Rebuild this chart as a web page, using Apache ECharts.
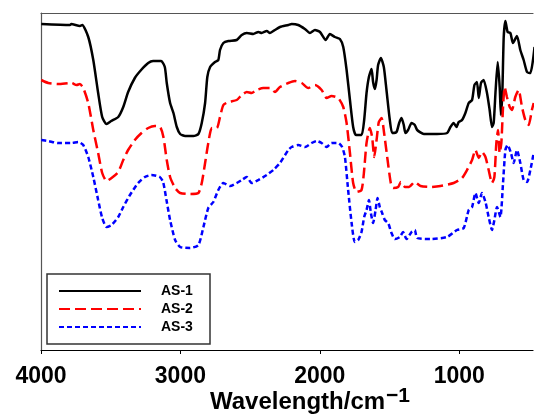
<!DOCTYPE html>
<html><head><meta charset="utf-8">
<script src="https://cdn.jsdelivr.net/npm/echarts@6/dist/echarts.min.js"></script>
<style>html,body{margin:0;padding:0;background:#fff}#c{width:534px;height:419px}</style>
</head><body><div id="c"></div>
<script>
var seriesNames = ['AS-1', 'AS-2', 'AS-3'];
var xTicks = [4000, 3000, 2000, 1000];
var as1 = [[3998,326],[3792,325],[3783,326],[3721,324],[3704,325],[3661,313],[3625,290],[3590,257],[3561,233],[3530,226],[3496,229],[3446,233],[3410,243],[3375,258],[3327,272],[3282,280],[3231,287],[3196,289],[3138,289],[3112,283],[3098,267],[3074,247],[3050,237],[3026,223],[3002,216],[2966,214],[2907,214],[2871,216],[2847,227],[2823,247],[2807,273],[2787,283],[2752,288],[2728,290],[2716,300],[2692,307],[2656,309],[2596,310],[2560,315],[2524,317],[2477,316],[2441,318],[2417,317],[2381,319],[2358,317],[2322,320],[2286,323],[2226,325],[2202,326],[2155,325],[2107,321],[2071,317],[2035,320],[1999,318],[1958,310],[1928,316],[1892,313],[1856,311],[1832,303],[1808,280],[1784,250],[1761,223],[1741,215],[1701,215],[1682,230],[1665,257],[1648,273],[1629,281],[1618,268],[1605,261],[1593,270],[1582,285],[1562,292],[1541,283],[1522,260],[1498,230],[1481,217],[1450,218],[1431,227],[1414,232],[1398,225],[1386,217],[1367,220],[1342,227],[1319,225],[1302,220],[1254,216],[1159,216],[1087,217],[1063,223],[1040,227],[1020,223],[1004,228],[980,230],[956,237],[932,247],[908,250],[891,265],[873,268],[860,252],[844,267],[825,270],[801,257],[782,240],[765,223],[753,227],[739,260],[724,288],[710,263],[701,235],[691,257],[681,313],[669,329],[653,318],[633,317],[615,307],[586,314],[562,300],[538,290],[514,278],[490,277],[471,290],[460,303]];
var as2 = [[3998,270],[3948,267],[3876,266],[3781,267],[3745,265],[3721,266],[3697,262],[3661,247],[3625,220],[3590,197],[3561,177],[3530,169],[3494,172],[3446,178],[3410,190],[3375,200],[3327,210],[3279,217],[3231,222],[3183,224],[3145,223],[3122,213],[3098,190],[3074,173],[3038,162],[3002,157],[2931,156],[2871,157],[2847,167],[2823,187],[2800,207],[2775,222],[2739,222],[2716,233],[2692,245],[2656,248],[2596,250],[2560,255],[2524,258],[2489,257],[2453,260],[2406,262],[2358,262],[2322,258],[2286,263],[2226,267],[2178,269],[2130,267],[2083,262],[2035,265],[1987,260],[1951,252],[1916,254],[1868,252],[1832,243],[1808,227],[1784,197],[1761,167],[1737,158],[1701,160],[1684,177],[1665,207],[1641,222],[1625,213],[1610,193],[1593,210],[1577,228],[1557,232],[1539,217],[1514,190],[1491,167],[1474,162],[1438,163],[1419,168],[1390,163],[1360,163],[1320,168],[1278,164],[1206,163],[1135,164],[1040,167],[980,172],[944,180],[908,190],[884,200],[860,192],[837,198],[812,193],[789,180],[765,167],[748,173],[734,207],[722,220],[710,197],[698,207],[686,243],[674,263],[658,253],[638,243],[622,240],[598,253],[574,260],[550,243],[526,230],[502,225],[479,240],[466,247]];
var as3 = [[3998,210],[3948,209],[3876,207],[3781,207],[3733,208],[3697,205],[3661,193],[3625,173],[3590,150],[3561,132],[3530,123],[3494,125],[3446,133],[3410,143],[3362,155],[3303,167],[3255,173],[3208,175],[3148,173],[3124,168],[3100,150],[3074,130],[3038,110],[3002,103],[2931,102],[2871,105],[2835,123],[2800,142],[2764,148],[2728,160],[2692,167],[2644,164],[2596,167],[2560,170],[2524,173],[2489,167],[2441,170],[2381,175],[2334,180],[2286,187],[2226,200],[2202,203],[2155,205],[2107,203],[2059,207],[2023,209],[1987,207],[1951,203],[1916,207],[1868,207],[1840,203],[1820,193],[1797,160],[1772,127],[1749,108],[1725,110],[1701,118],[1682,133],[1665,140],[1648,150],[1634,137],[1618,127],[1600,140],[1586,152],[1570,143],[1553,137],[1534,130],[1510,127],[1486,117],[1462,111],[1426,113],[1403,118],[1378,111],[1342,118],[1319,120],[1302,112],[1206,111],[1087,113],[1016,120],[968,122],[932,140],[908,143],[884,157],[860,147],[837,157],[812,148],[789,133],[765,120],[748,130],[729,143],[705,133],[686,167],[669,200],[653,205],[629,197],[610,187],[586,200],[562,187],[538,170],[514,168],[490,180],[466,197]];

var chart = echarts.init(document.getElementById('c'), null, {renderer: 'canvas'});
var FONT = 'Liberation Sans, Arial, sans-serif';
chart.setOption({
  animation: false,
  backgroundColor: '#fff',
  grid: {left: 41, right: 1, top: 13, bottom: 69, containLabel: false, outerBoundsMode: 'none'},
  legend: {
    orient: 'vertical', left: 47, top: 274,
    data: seriesNames,
    itemWidth: 82, itemHeight: 14, itemGap: 4,
    padding: [10, 11, 10, 11],
    borderColor: '#333', borderWidth: 1.5,
    itemStyle: {color: 'transparent', borderColor: 'transparent', borderWidth: 0, opacity: 0},
    textStyle: {fontFamily: FONT, fontSize: 14, fontWeight: 'bold', color: '#000', padding: [0,0,0,15], width: 38, lineHeight: 14}
  },
  xAxis: [{
    type: 'value', inverse: true, min: 471, max: 4000, interval: 1000,
    position: 'bottom',
    axisLine: {show: true, onZero: false, lineStyle: {color: '#000', width: 1.2}},
    axisTick: {show: true, length: 4, inside: false, lineStyle: {color: '#000'},
      customValues: xTicks},
    axisLabel: {fontFamily: FONT, fontSize: 23, fontWeight: 'bold', color: '#000', margin: 15,
      customValues: xTicks, formatter: function (v) { return String(v); }},
    splitLine: {show: false},
    name: 'Wavelength/cm{sup|\u22121}',
    nameLocation: 'middle', nameGap: 36, nameMoveOverlap: false,
    nameTextStyle: {fontFamily: FONT, fontSize: 24, fontWeight: 'bold', color: '#000',
      padding: [0, 0, 0, 46], verticalAlign: 'top',
      rich: {sup: {fontFamily: FONT, fontSize: 21, fontWeight: 'bold', color: '#000', verticalAlign: 'bottom', padding: [0, 0, 11, 1]}}}
  }, {
    type: 'value', inverse: true, min: 471, max: 4000, position: 'top',
    axisLine: {show: true, onZero: false, lineStyle: {color: '#555', width: 1.2}},
    axisTick: {show: false}, axisLabel: {show: false}, splitLine: {show: false}
  }],
  yAxis: {
    type: 'value', min: 0, max: 337,
    axisLine: {show: true, onZero: false, lineStyle: {color: '#555', width: 1.2}},
    axisTick: {show: false}, axisLabel: {show: false}, splitLine: {show: false}
  },
  series: [
    {name: seriesNames[0], type: 'line', data: as1, symbol: 'none', smooth: 0.2, clip: true,
      lineStyle: {color: '#000', width: 2.5, type: 'solid'}, itemStyle: {color: '#000'}},
    {name: seriesNames[1], type: 'line', data: as2, symbol: 'none', smooth: 0.2, clip: true,
      lineStyle: {color: '#ff0000', width: 2.5, type: [11, 5]}, itemStyle: {color: '#ff0000'}},
    {name: seriesNames[2], type: 'line', data: as3, symbol: 'none', smooth: 0.2, clip: true,
      lineStyle: {color: '#0000ff', width: 2.5, type: [5, 3]}, itemStyle: {color: '#0000ff'}}
  ]
});
</script></body></html>
